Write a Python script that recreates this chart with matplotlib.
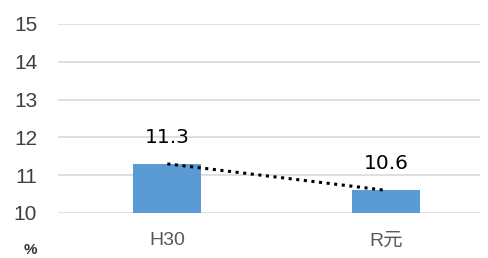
#!/usr/bin/env python3
import numpy as np
from matplotlib import pyplot as plt

plt.rcParams['font.family'] = ['Liberation Sans', 'Noto Sans CJK JP', 'DejaVu Sans']

categories = ['H30', 'R元']
values = [11.3, 10.6]
labels = ['11.3', '10.6']
yticks = [10, 11, 12, 13, 14, 15]

fig = plt.figure(figsize=(4.88, 2.58), dpi=100)
ax = fig.add_axes([58 / 488, 1 - 213 / 258, (480 - 58) / 488, (213 - 24) / 258])

x = np.arange(len(categories))
ax.bar(x, np.array(values) - 10, bottom=10, width=0.31, color='#5B9BD5', zorder=2)

# linear trend line through the two points
coef = np.polyfit(x, values, 1)
ax.plot(x, np.polyval(coef, x), linestyle=(0, (1, 1.5)), color='black', linewidth=2.2, zorder=3)

for xi, v, lab in zip(x, values, labels):
    ax.text(xi, v + 0.7, lab, ha='center', va='center', fontsize=14.5, color='black',
            family=['DejaVu Sans'])

ax.set_xlim(-0.5, 1.43)
ax.set_ylim(10, 15)
ax.set_yticks(yticks)
ax.set_xticks(x)
ax.set_xticklabels(categories, fontsize=14, color='#595959')
ax.tick_params(axis='y', labelsize=15, labelcolor='#404040', length=0, pad=15)
ax.tick_params(axis='x', length=0, pad=14)
ax.yaxis.grid(True, color='#d9d9d9', linewidth=1.2, zorder=0)
ax.set_axisbelow(True)
for s in ax.spines.values():
    s.set_visible(False)

fig.text(30 / 488, 1 - 250 / 258, '%', ha='center', va='center', fontsize=11, fontweight='bold',
         color='#333333')

plt.savefig('out.png', dpi=100)
